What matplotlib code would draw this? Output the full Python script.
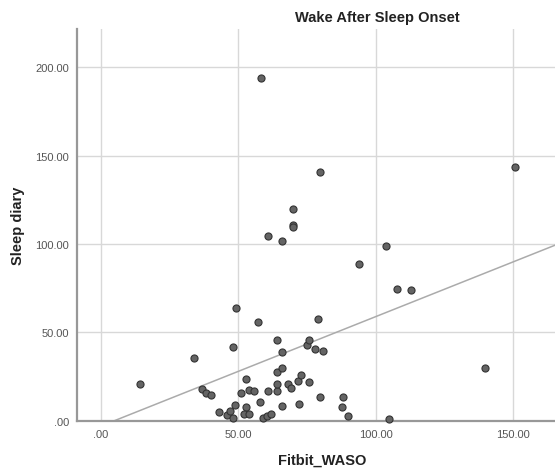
import numpy as np
import matplotlib
matplotlib.use("Agg")
import matplotlib.pyplot as plt

plt.rcParams['font.family'] = ['Liberation Sans', 'DejaVu Sans']

# Fitbit WASO vs sleep diary WASO
fitbit_waso = [14.3, 34.1, 37.0, 38.3, 40.1, 43.0, 46.0, 47.0, 48.2, 48.1,
               49.0, 49.1, 51.0, 52.9, 54.0, 55.8, 53.0, 52.1, 54.0, 57.1,
               57.9, 58.3, 59.1, 60.3, 62.1, 60.9, 60.9, 64.0, 64.0, 64.0,
               64.0, 65.9, 65.9, 65.9, 66.0, 68.0, 69.1, 70.0, 70.0, 70.0,
               71.8, 72.0, 72.8, 74.9, 75.8, 75.8, 78.0, 78.9, 79.7, 79.8,
               80.9, 88.0, 87.8, 89.8, 93.9, 103.7, 104.9, 107.8, 112.7, 139.7,
               150.5]
diary_waso = [20.8, 35.7, 17.8, 15.7, 14.5, 4.7, 3.2, 5.7, 1.3, 41.5,
              8.9, 63.8, 15.7, 23.6, 17.5, 16.8, 7.6, 3.6, 3.6, 55.9,
              10.8, 193.8, 1.7, 2.8, 3.6, 16.8, 104.7, 16.8, 20.8, 27.7,
              45.7, 29.8, 38.7, 8.5, 101.7, 20.8, 18.5, 119.6, 110.6, 109.4,
              22.6, 9.6, 25.9, 42.8, 45.8, 21.7, 40.8, 57.7, 140.7, 13.6,
              39.6, 13.6, 7.6, 2.7, 88.7, 98.7, 0.8, 74.7, 73.8, 29.8,
              143.7]

# fit line as drawn in the reference
fit_intercept = -3.1
fit_slope = 0.62

xticks = [0, 50, 100, 150]
yticks = [0, 50, 100, 150, 200]

fig = plt.figure(figsize=(5.55, 4.77), dpi=100)
ax = fig.add_axes([77.3 / 555, 1 - 421.7 / 477, 1 - 77.3 / 555, (421.7 - 30) / 477])

xmin, xmax = -8.5, 165.2
ax.set_xlim(xmin, xmax)
ax.set_ylim(0, 221.7)

ax.set_xticks(xticks)
ax.set_yticks(yticks)
fmt = lambda v: ('%.2f' % v).lstrip('0') if v == 0 else '%.2f' % v
ax.set_xticklabels([fmt(v) for v in xticks])
ax.set_yticklabels([fmt(v) for v in yticks])
ax.tick_params(length=0, labelsize=8, labelcolor='#555555', pad=6)

ax.grid(True, color='#d8d8d8', linewidth=1)
ax.set_axisbelow(True)
for s in ['top', 'right']:
    ax.spines[s].set_visible(False)
for s in ['left', 'bottom']:
    ax.spines[s].set_color('#989898')
    ax.spines[s].set_linewidth(1.6)

xs = np.array([xmin, xmax])
ax.plot(xs, fit_intercept + fit_slope * xs, color='#ababab', linewidth=1.1, zorder=2)

ax.scatter(fitbit_waso, diary_waso, s=26, facecolor='#646464', edgecolor='#333333',
           linewidth=0.8, zorder=3, clip_on=False)

fig.text(377 / 555, 1 - 18 / 477, 'Wake After Sleep Onset', ha='center', va='center',
         fontsize=10.5, fontweight='bold', color='#222222')
fig.text(322 / 555, 1 - 461 / 477, 'Fitbit_WASO', ha='center', va='center',
         fontsize=10.5, fontweight='bold', color='#222222')
fig.text(18 / 555, 1 - 226 / 477, 'Sleep diary', ha='center', va='center',
         rotation=90, fontsize=10.5, fontweight='bold', color='#222222')

fig.savefig('out.png', dpi=100)
